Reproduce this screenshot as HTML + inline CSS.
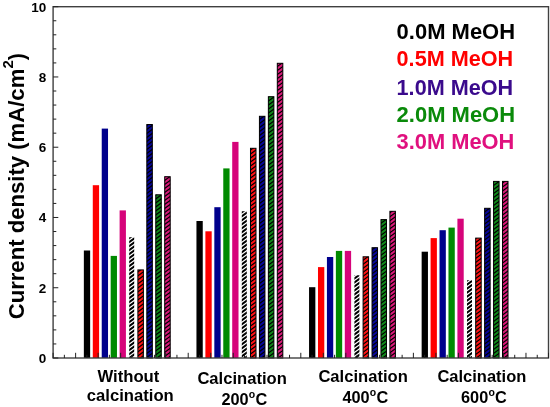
<!DOCTYPE html>
<html lang="en"><head><meta charset="utf-8"><title>Current density chart</title>
<style>html,body{margin:0;padding:0;background:#fff}svg{display:block}text{font-family:"Liberation Sans",Arial,Helvetica,sans-serif;font-weight:bold}</style></head><body>
<svg width="550" height="407" viewBox="0 0 550 407">
<rect width="550" height="407" fill="#fff"/>
<rect x="83.85" y="250.50" width="6.3" height="107.50" fill="#000000"/>
<rect x="92.79" y="185.20" width="6.3" height="172.80" fill="#ff0000"/>
<rect x="101.73" y="128.60" width="6.3" height="229.40" fill="#00008c"/>
<rect x="110.67" y="255.90" width="6.3" height="102.10" fill="#008a00"/>
<rect x="119.61" y="210.40" width="6.3" height="147.60" fill="#d6047a"/>
<rect x="129.20" y="237.30" width="5" height="120.70" fill="#ffffff"/>
<rect x="137.89" y="269.90" width="5.5" height="88.10" fill="#ff1414"/>
<rect x="146.83" y="124.50" width="5.5" height="233.50" fill="#06069a"/>
<rect x="155.77" y="194.80" width="5.5" height="163.20" fill="#10881a"/>
<rect x="164.71" y="176.70" width="5.5" height="181.30" fill="#da1879"/>
<rect x="196.45" y="221.00" width="6.3" height="137.00" fill="#000000"/>
<rect x="205.39" y="231.30" width="6.3" height="126.70" fill="#ff0000"/>
<rect x="214.33" y="207.20" width="6.3" height="150.80" fill="#00008c"/>
<rect x="223.27" y="168.40" width="6.3" height="189.60" fill="#008a00"/>
<rect x="232.21" y="141.90" width="6.3" height="216.10" fill="#d6047a"/>
<rect x="241.80" y="211.20" width="5" height="146.80" fill="#ffffff"/>
<rect x="250.49" y="148.30" width="5.5" height="209.70" fill="#ff1414"/>
<rect x="259.43" y="116.30" width="5.5" height="241.70" fill="#06069a"/>
<rect x="268.37" y="96.70" width="5.5" height="261.30" fill="#10881a"/>
<rect x="277.31" y="63.30" width="5.5" height="294.70" fill="#da1879"/>
<rect x="309.05" y="287.20" width="6.3" height="70.80" fill="#000000"/>
<rect x="317.99" y="267.10" width="6.3" height="90.90" fill="#ff0000"/>
<rect x="326.93" y="257.00" width="6.3" height="101.00" fill="#00008c"/>
<rect x="335.87" y="250.90" width="6.3" height="107.10" fill="#008a00"/>
<rect x="344.81" y="250.90" width="6.3" height="107.10" fill="#d6047a"/>
<rect x="354.40" y="275.20" width="5" height="82.80" fill="#ffffff"/>
<rect x="363.09" y="256.80" width="5.5" height="101.20" fill="#ff1414"/>
<rect x="372.03" y="247.70" width="5.5" height="110.30" fill="#06069a"/>
<rect x="380.97" y="219.60" width="5.5" height="138.40" fill="#10881a"/>
<rect x="389.91" y="211.30" width="5.5" height="146.70" fill="#da1879"/>
<rect x="421.65" y="251.70" width="6.3" height="106.30" fill="#000000"/>
<rect x="430.59" y="238.10" width="6.3" height="119.90" fill="#ff0000"/>
<rect x="439.53" y="230.20" width="6.3" height="127.80" fill="#00008c"/>
<rect x="448.47" y="227.60" width="6.3" height="130.40" fill="#008a00"/>
<rect x="457.41" y="218.70" width="6.3" height="139.30" fill="#d6047a"/>
<rect x="467.00" y="280.30" width="5" height="77.70" fill="#ffffff"/>
<rect x="475.69" y="238.10" width="5.5" height="119.90" fill="#ff1414"/>
<rect x="484.63" y="208.30" width="5.5" height="149.70" fill="#06069a"/>
<rect x="493.57" y="181.40" width="5.5" height="176.60" fill="#10881a"/>
<rect x="502.51" y="181.40" width="5.5" height="176.60" fill="#da1879"/>
<clipPath id="ca"><rect x="129.20" y="237.30" width="5" height="120.70"/><rect x="241.80" y="211.20" width="5" height="146.80"/><rect x="354.40" y="275.20" width="5" height="82.80"/><rect x="467.00" y="280.30" width="5" height="77.70"/></clipPath>
<clipPath id="cb"><rect x="137.89" y="269.90" width="5.5" height="88.10"/><rect x="146.83" y="124.50" width="5.5" height="233.50"/><rect x="155.77" y="194.80" width="5.5" height="163.20"/><rect x="164.71" y="176.70" width="5.5" height="181.30"/><rect x="250.49" y="148.30" width="5.5" height="209.70"/><rect x="259.43" y="116.30" width="5.5" height="241.70"/><rect x="268.37" y="96.70" width="5.5" height="261.30"/><rect x="277.31" y="63.30" width="5.5" height="294.70"/><rect x="363.09" y="256.80" width="5.5" height="101.20"/><rect x="372.03" y="247.70" width="5.5" height="110.30"/><rect x="380.97" y="219.60" width="5.5" height="138.40"/><rect x="389.91" y="211.30" width="5.5" height="146.70"/><rect x="475.69" y="238.10" width="5.5" height="119.90"/><rect x="484.63" y="208.30" width="5.5" height="149.70"/><rect x="493.57" y="181.40" width="5.5" height="176.60"/><rect x="502.51" y="181.40" width="5.5" height="176.60"/></clipPath>
<g clip-path="url(#ca)"><path d="M0 0.0L550 -399.6M0 4.0L550 -395.6M0 8.0L550 -391.6M0 12.0L550 -387.6M0 16.0L550 -383.6M0 20.0L550 -379.6M0 24.0L550 -375.6M0 28.0L550 -371.6M0 32.0L550 -367.6M0 36.0L550 -363.6M0 40.0L550 -359.6M0 44.0L550 -355.6M0 48.0L550 -351.6M0 52.0L550 -347.6M0 56.0L550 -343.6M0 60.0L550 -339.6M0 64.0L550 -335.6M0 68.0L550 -331.6M0 72.0L550 -327.6M0 76.0L550 -323.6M0 80.0L550 -319.6M0 84.0L550 -315.6M0 88.0L550 -311.6M0 92.0L550 -307.6M0 96.0L550 -303.6M0 100.0L550 -299.6M0 104.0L550 -295.6M0 108.0L550 -291.6M0 112.0L550 -287.6M0 116.0L550 -283.6M0 120.0L550 -279.6M0 124.0L550 -275.6M0 128.0L550 -271.6M0 132.0L550 -267.6M0 136.0L550 -263.6M0 140.0L550 -259.6M0 144.0L550 -255.6M0 148.0L550 -251.6M0 152.0L550 -247.6M0 156.0L550 -243.6M0 160.0L550 -239.6M0 164.0L550 -235.6M0 168.0L550 -231.6M0 172.0L550 -227.6M0 176.0L550 -223.6M0 180.0L550 -219.6M0 184.0L550 -215.6M0 188.0L550 -211.6M0 192.0L550 -207.6M0 196.0L550 -203.6M0 200.0L550 -199.6M0 204.0L550 -195.6M0 208.0L550 -191.6M0 212.0L550 -187.6M0 216.0L550 -183.6M0 220.0L550 -179.6M0 224.0L550 -175.6M0 228.0L550 -171.6M0 232.0L550 -167.6M0 236.0L550 -163.6M0 240.0L550 -159.6M0 244.0L550 -155.6M0 248.0L550 -151.6M0 252.0L550 -147.6M0 256.0L550 -143.6M0 260.0L550 -139.6M0 264.0L550 -135.6M0 268.0L550 -131.6M0 272.0L550 -127.6M0 276.0L550 -123.6M0 280.0L550 -119.6M0 284.0L550 -115.6M0 288.0L550 -111.6M0 292.0L550 -107.6M0 296.0L550 -103.6M0 300.0L550 -99.6M0 304.0L550 -95.6M0 308.0L550 -91.6M0 312.0L550 -87.6M0 316.0L550 -83.6M0 320.0L550 -79.6M0 324.0L550 -75.6M0 328.0L550 -71.6M0 332.0L550 -67.6M0 336.0L550 -63.6M0 340.0L550 -59.6M0 344.0L550 -55.6M0 348.0L550 -51.6M0 352.0L550 -47.6M0 356.0L550 -43.6M0 360.0L550 -39.6M0 364.0L550 -35.6M0 368.0L550 -31.6M0 372.0L550 -27.6M0 376.0L550 -23.6M0 380.0L550 -19.6M0 384.0L550 -15.6M0 388.0L550 -11.6M0 392.0L550 -7.6M0 396.0L550 -3.6M0 400.0L550 0.4M0 404.0L550 4.4M0 408.0L550 8.4M0 412.0L550 12.4M0 416.0L550 16.4M0 420.0L550 20.4M0 424.0L550 24.4M0 428.0L550 28.4M0 432.0L550 32.4M0 436.0L550 36.4M0 440.0L550 40.4M0 444.0L550 44.4M0 448.0L550 48.4M0 452.0L550 52.4M0 456.0L550 56.4M0 460.0L550 60.4M0 464.0L550 64.4M0 468.0L550 68.4M0 472.0L550 72.4M0 476.0L550 76.4M0 480.0L550 80.4M0 484.0L550 84.4M0 488.0L550 88.4M0 492.0L550 92.4M0 496.0L550 96.4M0 500.0L550 100.4M0 504.0L550 104.4M0 508.0L550 108.4M0 512.0L550 112.4M0 516.0L550 116.4M0 520.0L550 120.4M0 524.0L550 124.4M0 528.0L550 128.4M0 532.0L550 132.4M0 536.0L550 136.4M0 540.0L550 140.4M0 544.0L550 144.4M0 548.0L550 148.4M0 552.0L550 152.4M0 556.0L550 156.4M0 560.0L550 160.4M0 564.0L550 164.4M0 568.0L550 168.4M0 572.0L550 172.4M0 576.0L550 176.4M0 580.0L550 180.4M0 584.0L550 184.4M0 588.0L550 188.4M0 592.0L550 192.4M0 596.0L550 196.4M0 600.0L550 200.4M0 604.0L550 204.4M0 608.0L550 208.4M0 612.0L550 212.4M0 616.0L550 216.4M0 620.0L550 220.4M0 624.0L550 224.4M0 628.0L550 228.4M0 632.0L550 232.4M0 636.0L550 236.4M0 640.0L550 240.4M0 644.0L550 244.4M0 648.0L550 248.4M0 652.0L550 252.4M0 656.0L550 256.4M0 660.0L550 260.4M0 664.0L550 264.4M0 668.0L550 268.4M0 672.0L550 272.4M0 676.0L550 276.4M0 680.0L550 280.4M0 684.0L550 284.4M0 688.0L550 288.4M0 692.0L550 292.4M0 696.0L550 296.4M0 700.0L550 300.4M0 704.0L550 304.4M0 708.0L550 308.4M0 712.0L550 312.4M0 716.0L550 316.4M0 720.0L550 320.4M0 724.0L550 324.4M0 728.0L550 328.4M0 732.0L550 332.4M0 736.0L550 336.4M0 740.0L550 340.4M0 744.0L550 344.4M0 748.0L550 348.4M0 752.0L550 352.4M0 756.0L550 356.4M0 760.0L550 360.4M0 764.0L550 364.4M0 768.0L550 368.4M0 772.0L550 372.4M0 776.0L550 376.4M0 780.0L550 380.4M0 784.0L550 384.4M0 788.0L550 388.4M0 792.0L550 392.4M0 796.0L550 396.4M0 800.0L550 400.4M0 804.0L550 404.4" stroke="#000" stroke-width="2.0" fill="none"/></g>
<g clip-path="url(#cb)"><path d="M0 0.0L550 -399.6M0 4.0L550 -395.6M0 8.0L550 -391.6M0 12.0L550 -387.6M0 16.0L550 -383.6M0 20.0L550 -379.6M0 24.0L550 -375.6M0 28.0L550 -371.6M0 32.0L550 -367.6M0 36.0L550 -363.6M0 40.0L550 -359.6M0 44.0L550 -355.6M0 48.0L550 -351.6M0 52.0L550 -347.6M0 56.0L550 -343.6M0 60.0L550 -339.6M0 64.0L550 -335.6M0 68.0L550 -331.6M0 72.0L550 -327.6M0 76.0L550 -323.6M0 80.0L550 -319.6M0 84.0L550 -315.6M0 88.0L550 -311.6M0 92.0L550 -307.6M0 96.0L550 -303.6M0 100.0L550 -299.6M0 104.0L550 -295.6M0 108.0L550 -291.6M0 112.0L550 -287.6M0 116.0L550 -283.6M0 120.0L550 -279.6M0 124.0L550 -275.6M0 128.0L550 -271.6M0 132.0L550 -267.6M0 136.0L550 -263.6M0 140.0L550 -259.6M0 144.0L550 -255.6M0 148.0L550 -251.6M0 152.0L550 -247.6M0 156.0L550 -243.6M0 160.0L550 -239.6M0 164.0L550 -235.6M0 168.0L550 -231.6M0 172.0L550 -227.6M0 176.0L550 -223.6M0 180.0L550 -219.6M0 184.0L550 -215.6M0 188.0L550 -211.6M0 192.0L550 -207.6M0 196.0L550 -203.6M0 200.0L550 -199.6M0 204.0L550 -195.6M0 208.0L550 -191.6M0 212.0L550 -187.6M0 216.0L550 -183.6M0 220.0L550 -179.6M0 224.0L550 -175.6M0 228.0L550 -171.6M0 232.0L550 -167.6M0 236.0L550 -163.6M0 240.0L550 -159.6M0 244.0L550 -155.6M0 248.0L550 -151.6M0 252.0L550 -147.6M0 256.0L550 -143.6M0 260.0L550 -139.6M0 264.0L550 -135.6M0 268.0L550 -131.6M0 272.0L550 -127.6M0 276.0L550 -123.6M0 280.0L550 -119.6M0 284.0L550 -115.6M0 288.0L550 -111.6M0 292.0L550 -107.6M0 296.0L550 -103.6M0 300.0L550 -99.6M0 304.0L550 -95.6M0 308.0L550 -91.6M0 312.0L550 -87.6M0 316.0L550 -83.6M0 320.0L550 -79.6M0 324.0L550 -75.6M0 328.0L550 -71.6M0 332.0L550 -67.6M0 336.0L550 -63.6M0 340.0L550 -59.6M0 344.0L550 -55.6M0 348.0L550 -51.6M0 352.0L550 -47.6M0 356.0L550 -43.6M0 360.0L550 -39.6M0 364.0L550 -35.6M0 368.0L550 -31.6M0 372.0L550 -27.6M0 376.0L550 -23.6M0 380.0L550 -19.6M0 384.0L550 -15.6M0 388.0L550 -11.6M0 392.0L550 -7.6M0 396.0L550 -3.6M0 400.0L550 0.4M0 404.0L550 4.4M0 408.0L550 8.4M0 412.0L550 12.4M0 416.0L550 16.4M0 420.0L550 20.4M0 424.0L550 24.4M0 428.0L550 28.4M0 432.0L550 32.4M0 436.0L550 36.4M0 440.0L550 40.4M0 444.0L550 44.4M0 448.0L550 48.4M0 452.0L550 52.4M0 456.0L550 56.4M0 460.0L550 60.4M0 464.0L550 64.4M0 468.0L550 68.4M0 472.0L550 72.4M0 476.0L550 76.4M0 480.0L550 80.4M0 484.0L550 84.4M0 488.0L550 88.4M0 492.0L550 92.4M0 496.0L550 96.4M0 500.0L550 100.4M0 504.0L550 104.4M0 508.0L550 108.4M0 512.0L550 112.4M0 516.0L550 116.4M0 520.0L550 120.4M0 524.0L550 124.4M0 528.0L550 128.4M0 532.0L550 132.4M0 536.0L550 136.4M0 540.0L550 140.4M0 544.0L550 144.4M0 548.0L550 148.4M0 552.0L550 152.4M0 556.0L550 156.4M0 560.0L550 160.4M0 564.0L550 164.4M0 568.0L550 168.4M0 572.0L550 172.4M0 576.0L550 176.4M0 580.0L550 180.4M0 584.0L550 184.4M0 588.0L550 188.4M0 592.0L550 192.4M0 596.0L550 196.4M0 600.0L550 200.4M0 604.0L550 204.4M0 608.0L550 208.4M0 612.0L550 212.4M0 616.0L550 216.4M0 620.0L550 220.4M0 624.0L550 224.4M0 628.0L550 228.4M0 632.0L550 232.4M0 636.0L550 236.4M0 640.0L550 240.4M0 644.0L550 244.4M0 648.0L550 248.4M0 652.0L550 252.4M0 656.0L550 256.4M0 660.0L550 260.4M0 664.0L550 264.4M0 668.0L550 268.4M0 672.0L550 272.4M0 676.0L550 276.4M0 680.0L550 280.4M0 684.0L550 284.4M0 688.0L550 288.4M0 692.0L550 292.4M0 696.0L550 296.4M0 700.0L550 300.4M0 704.0L550 304.4M0 708.0L550 308.4M0 712.0L550 312.4M0 716.0L550 316.4M0 720.0L550 320.4M0 724.0L550 324.4M0 728.0L550 328.4M0 732.0L550 332.4M0 736.0L550 336.4M0 740.0L550 340.4M0 744.0L550 344.4M0 748.0L550 348.4M0 752.0L550 352.4M0 756.0L550 356.4M0 760.0L550 360.4M0 764.0L550 364.4M0 768.0L550 368.4M0 772.0L550 372.4M0 776.0L550 376.4M0 780.0L550 380.4M0 784.0L550 384.4M0 788.0L550 388.4M0 792.0L550 392.4M0 796.0L550 396.4M0 800.0L550 400.4M0 804.0L550 404.4" stroke="#000" stroke-width="1.15" fill="none"/></g>
<rect x="137.89" y="269.90" width="5.5" height="88.10" fill="none" stroke="#000" stroke-width="1"/>
<rect x="146.83" y="124.50" width="5.5" height="233.50" fill="none" stroke="#000" stroke-width="1"/>
<rect x="155.77" y="194.80" width="5.5" height="163.20" fill="none" stroke="#000" stroke-width="1"/>
<rect x="164.71" y="176.70" width="5.5" height="181.30" fill="none" stroke="#000" stroke-width="1"/>
<rect x="250.49" y="148.30" width="5.5" height="209.70" fill="none" stroke="#000" stroke-width="1"/>
<rect x="259.43" y="116.30" width="5.5" height="241.70" fill="none" stroke="#000" stroke-width="1"/>
<rect x="268.37" y="96.70" width="5.5" height="261.30" fill="none" stroke="#000" stroke-width="1"/>
<rect x="277.31" y="63.30" width="5.5" height="294.70" fill="none" stroke="#000" stroke-width="1"/>
<rect x="363.09" y="256.80" width="5.5" height="101.20" fill="none" stroke="#000" stroke-width="1"/>
<rect x="372.03" y="247.70" width="5.5" height="110.30" fill="none" stroke="#000" stroke-width="1"/>
<rect x="380.97" y="219.60" width="5.5" height="138.40" fill="none" stroke="#000" stroke-width="1"/>
<rect x="389.91" y="211.30" width="5.5" height="146.70" fill="none" stroke="#000" stroke-width="1"/>
<rect x="475.69" y="238.10" width="5.5" height="119.90" fill="none" stroke="#000" stroke-width="1"/>
<rect x="484.63" y="208.30" width="5.5" height="149.70" fill="none" stroke="#000" stroke-width="1"/>
<rect x="493.57" y="181.40" width="5.5" height="176.60" fill="none" stroke="#000" stroke-width="1"/>
<rect x="502.51" y="181.40" width="5.5" height="176.60" fill="none" stroke="#000" stroke-width="1"/>
<rect x="53.1" y="6.7" width="495.4" height="351.3" fill="none" stroke="#404040" stroke-width="1.4"/>
<path d="M53.1 358.00h5.2M53.1 343.95h3.2M53.1 329.90h3.2M53.1 315.84h3.2M53.1 301.79h3.2M53.1 287.74h5.2M53.1 273.69h3.2M53.1 259.64h3.2M53.1 245.58h3.2M53.1 231.53h3.2M53.1 217.48h5.2M53.1 203.43h3.2M53.1 189.38h3.2M53.1 175.32h3.2M53.1 161.27h3.2M53.1 147.22h5.2M53.1 133.17h3.2M53.1 119.12h3.2M53.1 105.06h3.2M53.1 91.01h3.2M53.1 76.96h5.2M53.1 62.91h3.2M53.1 48.86h3.2M53.1 34.80h3.2M53.1 20.75h3.2M53.1 6.70h5.2M53.10 358.0v-5.2M64.36 358.0v-3.2M75.62 358.0v-5.2M86.88 358.0v-3.2M98.14 358.0v-5.2M109.40 358.0v-3.2M120.65 358.0v-5.2M131.91 358.0v-3.2M143.17 358.0v-5.2M154.43 358.0v-3.2M165.69 358.0v-5.2M176.95 358.0v-3.2M188.21 358.0v-5.2M199.47 358.0v-3.2M210.73 358.0v-5.2M221.99 358.0v-3.2M233.25 358.0v-5.2M244.50 358.0v-3.2M255.76 358.0v-5.2M267.02 358.0v-3.2M278.28 358.0v-5.2M289.54 358.0v-3.2M300.80 358.0v-5.2M312.06 358.0v-3.2M323.32 358.0v-5.2M334.58 358.0v-3.2M345.84 358.0v-5.2M357.10 358.0v-3.2M368.35 358.0v-5.2M379.61 358.0v-3.2M390.87 358.0v-5.2M402.13 358.0v-3.2M413.39 358.0v-5.2M424.65 358.0v-3.2M435.91 358.0v-5.2M447.17 358.0v-3.2M458.43 358.0v-5.2M469.69 358.0v-3.2M480.95 358.0v-5.2M492.20 358.0v-3.2M503.46 358.0v-5.2M514.72 358.0v-3.2M525.98 358.0v-5.2M537.24 358.0v-3.2M548.50 358.0v-5.2" fill="none" stroke="#222" stroke-width="1"/>
<text x="46.2" y="362.8" font-size="13.5" text-anchor="end" fill="#000">0</text>
<text x="46.2" y="292.5" font-size="13.5" text-anchor="end" fill="#000">2</text>
<text x="46.2" y="222.3" font-size="13.5" text-anchor="end" fill="#000">4</text>
<text x="46.2" y="152.0" font-size="13.5" text-anchor="end" fill="#000">6</text>
<text x="46.2" y="81.8" font-size="13.5" text-anchor="end" fill="#000">8</text>
<text x="46.2" y="11.5" font-size="13.5" text-anchor="end" fill="#000">10</text>
<g transform="translate(23.7 318.3) rotate(-90)" fill="#000"><text x="-1" y="0" font-size="22.5" textLength="250.6" lengthAdjust="spacingAndGlyphs">Current density (mA/cm</text><text x="249.9" y="-10.8" font-size="14.5" textLength="8.4" lengthAdjust="spacingAndGlyphs">2</text><text x="258.0" y="0" font-size="21.5">)</text></g>
<text x="396.6" y="39.3" font-size="22" fill="#000000" textLength="118.5" lengthAdjust="spacingAndGlyphs">0.0M MeOH</text>
<text x="396.6" y="65.6" font-size="22" fill="#ff0000" textLength="116.6" lengthAdjust="spacingAndGlyphs">0.5M MeOH</text>
<text x="396.6" y="94.9" font-size="22" fill="#3a0a8c" textLength="116.6" lengthAdjust="spacingAndGlyphs">1.0M MeOH</text>
<text x="396.6" y="122.0" font-size="22" fill="#0a8a0a" textLength="118.5" lengthAdjust="spacingAndGlyphs">2.0M MeOH</text>
<text x="396.6" y="148.9" font-size="22" fill="#e0107e" textLength="117.8" lengthAdjust="spacingAndGlyphs">3.0M MeOH</text>
<text x="97.4" y="381.79999999999995" font-size="16.3" fill="#000" textLength="62.0" lengthAdjust="spacingAndGlyphs">Without</text>
<text x="86.8" y="400.79999999999995" font-size="16.3" fill="#000" textLength="87.0" lengthAdjust="spacingAndGlyphs">calcination</text>
<text x="197.4" y="383.79999999999995" font-size="16.3" fill="#000" textLength="89.4" lengthAdjust="spacingAndGlyphs">Calcination</text>
<text x="318.4" y="382.4" font-size="16.3" fill="#000" textLength="89.4" lengthAdjust="spacingAndGlyphs">Calcination</text>
<text x="437.4" y="382.4" font-size="16.3" fill="#000" textLength="88.9" lengthAdjust="spacingAndGlyphs">Calcination</text>
<text x="221.4" y="404.8" font-size="16.3" fill="#000" textLength="27.2" lengthAdjust="spacingAndGlyphs">200</text>
<text x="248.8" y="397.6" font-size="10.5" fill="#000">o</text>
<text x="255.4" y="404.8" font-size="16.3" fill="#000">C</text>
<text x="342.4" y="403.4" font-size="16.3" fill="#000" textLength="27.2" lengthAdjust="spacingAndGlyphs">400</text>
<text x="369.8" y="396.2" font-size="10.5" fill="#000">o</text>
<text x="376.4" y="403.4" font-size="16.3" fill="#000">C</text>
<text x="461.0" y="403.4" font-size="16.3" fill="#000" textLength="27.2" lengthAdjust="spacingAndGlyphs">600</text>
<text x="488.4" y="396.2" font-size="10.5" fill="#000">o</text>
<text x="495.0" y="403.4" font-size="16.3" fill="#000">C</text>
</svg></body></html>
